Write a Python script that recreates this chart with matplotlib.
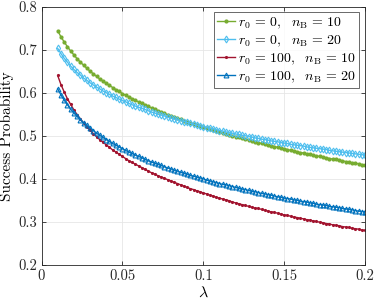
import matplotlib
matplotlib.use('Agg')
import matplotlib.pyplot as plt

plt.rcParams['font.family'] = 'serif'
plt.rcParams['font.serif'] = ['cmr10']
plt.rcParams['mathtext.fontset'] = 'cm'
plt.rcParams['axes.formatter.use_mathtext'] = True

lam = [
    0.010, 0.012, 0.014, 0.016, 0.018, 0.020, 0.022, 0.024, 0.026, 0.028,
    0.030, 0.032, 0.034, 0.036, 0.038, 0.040, 0.042, 0.044, 0.046, 0.048,
    0.050, 0.052, 0.054, 0.056, 0.058, 0.060, 0.062, 0.064, 0.066, 0.068,
    0.070, 0.072, 0.074, 0.076, 0.078, 0.080, 0.082, 0.084, 0.086, 0.088,
    0.090, 0.092, 0.094, 0.096, 0.098, 0.100, 0.102, 0.104, 0.106, 0.108,
    0.110, 0.112, 0.114, 0.116, 0.118, 0.120, 0.122, 0.124, 0.126, 0.128,
    0.130, 0.132, 0.134, 0.136, 0.138, 0.140, 0.142, 0.144, 0.146, 0.148,
    0.150, 0.152, 0.154, 0.156, 0.158, 0.160, 0.162, 0.164, 0.166, 0.168,
    0.170, 0.172, 0.174, 0.176, 0.178, 0.180, 0.182, 0.184, 0.186, 0.188,
    0.190, 0.192, 0.194, 0.196, 0.198, 0.200,
]

# r0 = 0, nB = 10
p_r0_nb10 = [
    0.744, 0.730, 0.718, 0.707, 0.697, 0.688, 0.679, 0.671, 0.664, 0.657,
    0.650, 0.644, 0.638, 0.632, 0.627, 0.622, 0.617, 0.612, 0.607, 0.603,
    0.598, 0.594, 0.590, 0.586, 0.582, 0.579, 0.575, 0.572, 0.568, 0.565,
    0.562, 0.558, 0.555, 0.552, 0.549, 0.546, 0.543, 0.541, 0.538, 0.535,
    0.533, 0.530, 0.527, 0.525, 0.522, 0.520, 0.518, 0.515, 0.513, 0.511,
    0.508, 0.506, 0.504, 0.502, 0.500, 0.498, 0.496, 0.494, 0.492, 0.490,
    0.488, 0.486, 0.484, 0.482, 0.480, 0.478, 0.477, 0.475, 0.473, 0.471,
    0.470, 0.468, 0.466, 0.465, 0.463, 0.461, 0.460, 0.458, 0.457, 0.455,
    0.453, 0.452, 0.450, 0.449, 0.447, 0.446, 0.445, 0.443, 0.442, 0.440,
    0.439, 0.437, 0.436, 0.435, 0.433, 0.432,
]

# r0 = 0, nB = 20
p_r0_nb20 = [
    0.703, 0.691, 0.680, 0.671, 0.662, 0.654, 0.647, 0.641, 0.634, 0.629,
    0.623, 0.618, 0.613, 0.609, 0.604, 0.600, 0.596, 0.592, 0.589, 0.585,
    0.582, 0.579, 0.575, 0.572, 0.569, 0.566, 0.564, 0.561, 0.558, 0.555,
    0.553, 0.550, 0.548, 0.546, 0.543, 0.541, 0.539, 0.537, 0.535, 0.533,
    0.531, 0.529, 0.527, 0.525, 0.523, 0.521, 0.519, 0.517, 0.516, 0.514,
    0.512, 0.511, 0.509, 0.507, 0.506, 0.504, 0.503, 0.501, 0.500, 0.498,
    0.497, 0.495, 0.494, 0.492, 0.491, 0.490, 0.488, 0.487, 0.486, 0.484,
    0.483, 0.482, 0.480, 0.479, 0.478, 0.477, 0.476, 0.474, 0.473, 0.472,
    0.471, 0.470, 0.469, 0.468, 0.466, 0.465, 0.464, 0.463, 0.462, 0.461,
    0.460, 0.459, 0.458, 0.457, 0.456, 0.455,
]

# r0 = 100, nB = 10
p_r100_nb10 = [
    0.640, 0.619, 0.602, 0.586, 0.573, 0.560, 0.549, 0.539, 0.530, 0.521,
    0.513, 0.505, 0.498, 0.491, 0.485, 0.479, 0.473, 0.467, 0.462, 0.457,
    0.452, 0.447, 0.442, 0.438, 0.434, 0.430, 0.426, 0.422, 0.418, 0.414,
    0.411, 0.407, 0.404, 0.401, 0.398, 0.395, 0.392, 0.389, 0.386, 0.383,
    0.380, 0.377, 0.375, 0.372, 0.370, 0.367, 0.365, 0.362, 0.360, 0.357,
    0.355, 0.353, 0.351, 0.349, 0.346, 0.344, 0.342, 0.340, 0.338, 0.336,
    0.334, 0.332, 0.331, 0.329, 0.327, 0.325, 0.323, 0.322, 0.320, 0.318,
    0.316, 0.315, 0.313, 0.311, 0.310, 0.308, 0.307, 0.305, 0.304, 0.302,
    0.301, 0.299, 0.298, 0.296, 0.295, 0.293, 0.292, 0.291, 0.289, 0.288,
    0.287, 0.285, 0.284, 0.283, 0.281, 0.280,
]

# r0 = 100, nB = 20
p_r100_nb20 = [
    0.609, 0.595, 0.583, 0.572, 0.562, 0.553, 0.545, 0.537, 0.530, 0.524,
    0.518, 0.512, 0.506, 0.501, 0.496, 0.491, 0.487, 0.482, 0.478, 0.474,
    0.470, 0.466, 0.462, 0.459, 0.455, 0.452, 0.449, 0.445, 0.442, 0.439,
    0.436, 0.434, 0.431, 0.428, 0.425, 0.423, 0.420, 0.418, 0.415, 0.413,
    0.411, 0.408, 0.406, 0.404, 0.402, 0.400, 0.397, 0.395, 0.393, 0.391,
    0.389, 0.387, 0.386, 0.384, 0.382, 0.380, 0.378, 0.376, 0.375, 0.373,
    0.371, 0.370, 0.368, 0.366, 0.365, 0.363, 0.362, 0.360, 0.358, 0.357,
    0.355, 0.354, 0.353, 0.351, 0.350, 0.348, 0.347, 0.346, 0.344, 0.343,
    0.341, 0.340, 0.339, 0.338, 0.336, 0.335, 0.334, 0.333, 0.331, 0.330,
    0.329, 0.328, 0.326, 0.325, 0.324, 0.323,
]

labels = [
    r'$r_0\,=\,0,\ \ n_\mathrm{B}\,=\,10$',
    r'$r_0\,=\,0,\ \ n_\mathrm{B}\,=\,20$',
    r'$r_0\,=\,100,\ \ n_\mathrm{B}\,=\,10$',
    r'$r_0\,=\,100,\ \ n_\mathrm{B}\,=\,20$',
]

fig = plt.figure(figsize=(3.74, 3.01), dpi=100)
ax = fig.add_axes([0.111, 0.120, 0.865, 0.858])

ax.plot(lam, p_r0_nb10, color='#77AC30', marker='.', ms=4, lw=1.0, label=labels[0])
ax.plot(lam, p_r0_nb20, color='#4DBEEE', marker='d', ms=3.5, mfc='none', mew=0.8,
        lw=1.0, label=labels[1])
ax.plot(lam, p_r100_nb10, color='#A2142F', marker='.', ms=2.5, lw=1.0, label=labels[2])
ax.plot(lam, p_r100_nb20, color='#0072BD', marker='^', ms=3.5, mfc='none', mew=0.8,
        lw=1.0, label=labels[3])

ax.set_xlim(0, 0.2)
ax.set_ylim(0.2, 0.8)
ax.set_xticks([0, 0.05, 0.1, 0.15, 0.2])
ax.set_xticklabels(['0', '0.05', '0.1', '0.15', '0.2'])
ax.set_yticks([0.2, 0.3, 0.4, 0.5, 0.6, 0.7, 0.8])
ax.set_yticklabels(['0.2', '0.3', '0.4', '0.5', '0.6', '0.7', '0.8'])
ax.tick_params(direction='in', length=3, width=0.6, colors='#262626',
               labelsize=10.5, top=True, right=True, pad=3)
for s in ax.spines.values():
    s.set_color('#262626')
    s.set_linewidth(0.6)
ax.grid(True, color='#e6e6e6', lw=0.6)
ax.set_axisbelow(True)

ax.set_xlabel(r'$\lambda$', fontsize=11.5, labelpad=2)
ax.set_ylabel('Success Probability', fontsize=11, labelpad=3)

leg = ax.legend(loc='upper right', fontsize=10, frameon=True, fancybox=False,
                borderpad=0.25, labelspacing=0.2, handlelength=1.3,
                handletextpad=0.2, borderaxespad=0.4)
leg.get_frame().set_edgecolor('#262626')
leg.get_frame().set_linewidth(0.6)

fig.savefig('out.png', dpi=100)
